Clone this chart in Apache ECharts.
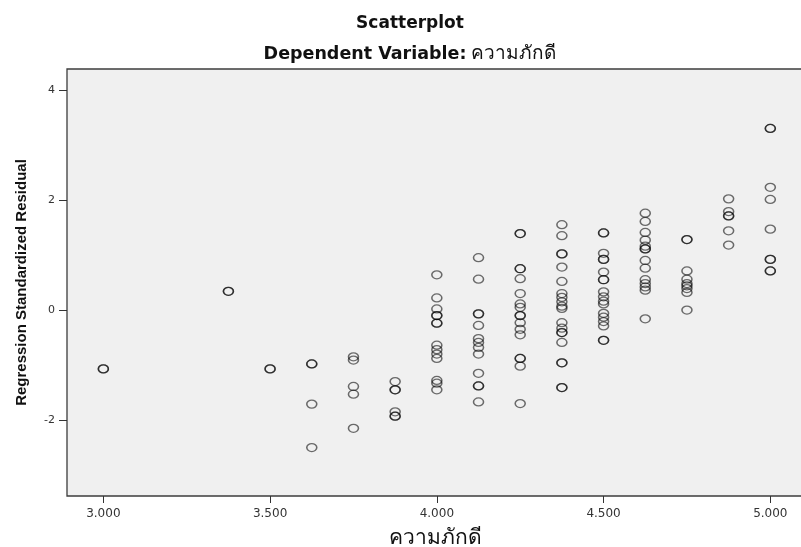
<!DOCTYPE html>
<html>
<head>
<meta charset="utf-8">
<script src="https://cdn.jsdelivr.net/npm/echarts@6/dist/echarts.min.js"></script>
<style>
  html, body { margin: 0; padding: 0; background: #fff; }
  #main { width: 801px; height: 547px; }
</style>
</head>
<body>
<div id="main"></div>
<script>
"use strict";

// ค่าความภักดี (แกน x) และ residual ของแต่ละระดับ
var loyaltyLevels = [3.000, 3.375, 3.500, 3.625, 3.750, 3.875, 4.000, 4.125, 4.250, 4.375, 4.500, 4.625, 4.750, 4.875, 5.000];
var residualsByLevel = [
    [-1.07, -1.07],
    [0.34, 0.34],
    [-1.07, -1.07],
    [-0.98, -0.98, -1.71, -2.50],
    [-0.85, -0.91, -1.39, -1.53, -2.15],
    [-1.30, -1.45, -1.45, -1.85, -1.93, -1.93],
    [0.64, 0.22, 0.02, -0.10, -0.10, -0.24, -0.24, -0.64, -0.72, -0.80, -0.88, -1.28, -1.33, -1.45],
    [0.95, 0.56, -0.07, -0.07, -0.28, -0.52, -0.59, -0.68, -0.80, -1.15, -1.38, -1.38, -1.67],
    [1.39, 1.39, 0.75, 0.75, 0.57, 0.30, 0.11, 0.05, -0.10, -0.10, -0.23, -0.35, -0.45, -0.88, -0.88, -1.02, -1.70],
    [1.55, 1.35, 1.02, 1.02, 0.78, 0.52, 0.30, 0.23, 0.15, 0.07, 0.03, -0.23, -0.33, -0.41, -0.41, -0.59, -0.96, -0.96, -1.41, -1.41],
    [1.40, 1.40, 1.03, 0.92, 0.92, 0.69, 0.55, 0.55, 0.33, 0.24, 0.16, 0.11, -0.06, -0.13, -0.21, -0.29, -0.55, -0.55],
    [1.76, 1.61, 1.41, 1.27, 1.16, 1.11, 1.11, 0.90, 0.76, 0.55, 0.48, 0.42, 0.36, -0.16],
    [1.28, 1.28, 0.71, 0.56, 0.48, 0.44, 0.39, 0.32, 0.00],
    [2.02, 1.79, 1.71, 1.71, 1.44, 1.18],
    [3.30, 3.30, 2.23, 2.01, 1.47, 0.92, 0.92, 0.71, 0.71]
];
var xTicks = [3.0, 3.5, 4.0, 4.5, 5.0];
var yTicks = [-2, 0, 2, 4];

var titleText = 'Scatterplot';
var subtitleLabel = 'Dependent Variable:';
var depVarName = 'ความภักดี';
var yAxisName = 'Regression Standardized Residual';

// แปลงเป็นคู่ [x, y]
var points = [];
for (var i = 0; i < loyaltyLevels.length; i++) {
    for (var j = 0; j < residualsByLevel[i].length; j++) {
        points.push([loyaltyLevels[i], residualsByLevel[i][j]]);
    }
}

var chart = echarts.init(document.getElementById('main'), null, { renderer: 'canvas' });

var option = {
    backgroundColor: '#ffffff',
    animation: false,
    title: [
        {
            text: titleText,
            left: 405,
            top: 10,
            textAlign: 'center',
            textStyle: { fontFamily: 'DejaVu Sans', fontWeight: 'bold', fontSize: 17, color: '#111' }
        },
        {
            text: '{b|' + subtitleLabel + '} {n|' + depVarName + '}',
            left: 405,
            top: 40,
            textAlign: 'center',
            textStyle: {
                rich: {
                    b: { fontFamily: 'DejaVu Sans', fontWeight: 'bold', fontSize: 17.5, color: '#111' },
                    n: { fontFamily: 'DejaVu Sans, Noto Sans', fontWeight: 'normal', fontSize: 19, color: '#111' }
                }
            }
        }
    ],
    grid: {
        left: 67,
        right: -3,
        top: 69,
        bottom: 51,
        outerBoundsMode: 'none',
        show: true,
        backgroundColor: '#f0f0f0',
        borderColor: '#3c3c3c',
        borderWidth: 1.3
    },
    xAxis: {
        type: 'value',
        min: 2.891,
        max: 5.101,
        name: depVarName,
        nameLocation: 'middle',
        nameGap: 32,
        nameTextStyle: { fontFamily: 'DejaVu Sans, Noto Sans', fontSize: 21, color: '#111' },
        axisLine: { show: false, onZero: false },
        axisTick: { show: true, customValues: xTicks, length: 7, lineStyle: { color: '#333' } },
        axisLabel: {
            customValues: xTicks,
            margin: 12,
            fontFamily: 'DejaVu Sans',
            fontSize: 12,
            color: '#333',
            formatter: function (v) { return v.toFixed(3); }
        },
        splitLine: { show: false }
    },
    yAxis: {
        type: 'value',
        min: -3.38,
        max: 4.38,
        name: yAxisName,
        nameLocation: 'middle',
        nameRotate: 90,
        nameGap: 38,
        nameTextStyle: { fontFamily: 'Liberation Sans', fontWeight: 'bold', fontSize: 15, color: '#111' },
        axisLine: { show: false, onZero: false },
        axisTick: { show: true, customValues: yTicks, length: 8, lineStyle: { color: '#333' } },
        axisLabel: {
            customValues: yTicks,
            margin: 12,
            fontFamily: 'DejaVu Sans',
            fontSize: 11,
            color: '#333'
        },
        splitLine: { show: false }
    },
    series: [
        {
            type: 'scatter',
            data: points,
            symbol: 'path://M0,10a10,10 0 1,0 20,0a10,10 0 1,0 -20,0z',
            symbolSize: [10, 8],
            itemStyle: {
                color: 'rgba(0,0,0,0)',
                borderColor: 'rgba(0,0,0,0.7)',
                borderWidth: 1.4
            },
            emphasis: { disabled: true }
        }
    ]
};

chart.setOption(option);
</script>
</body>
</html>
